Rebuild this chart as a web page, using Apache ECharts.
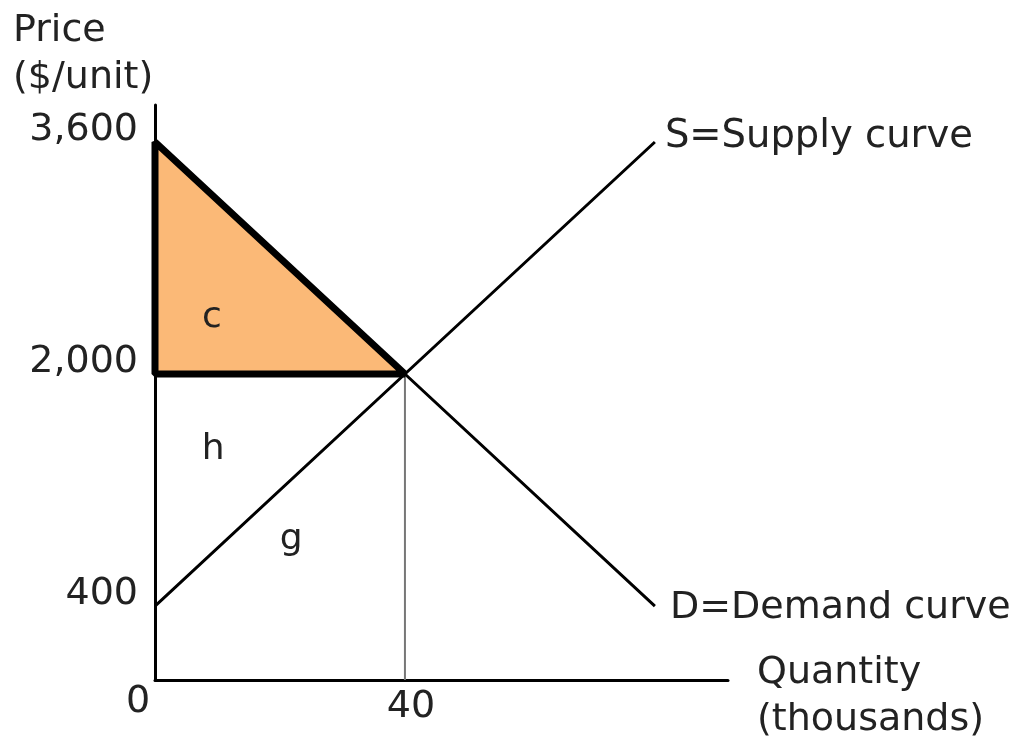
<!DOCTYPE html>
<html>
<head>
<meta charset="utf-8">
<script src="https://cdn.jsdelivr.net/npm/echarts@6/dist/echarts.min.js"></script>
<style>
  html, body { margin: 0; padding: 0; background: #fff; }
  #main { width: 1018px; height: 738px; }
</style>
</head>
<body>
<div id="main"></div>
<script>
// quantity in thousands, price in $/unit
const quantity = [0, 40, 80];
const supplyPrice = [400, 2000, 3600];
const demandPrice = [3600, 2000, 400];
const priceTicks = [400, 2000, 3600];
const quantityTicks = [0, 40];
// consumer surplus triangle (area c)
const surplusQ = [0, 40, 0];
const surplusP = [3600, 2000, 2000];
// equilibrium guide line
const guideQ = [40, 40];
const guideP = [2000, -110];
// area letters
const areaNames = ["c", "h", "g"];
const areaQ = [9.1, 9.3, 21.8];
const areaP = [2386, 1476, 855];

const FONT = "DejaVu Sans";
const TXT = "#222";

const chart = echarts.init(document.getElementById("main"));

const zip = (a, b) => a.map((v, i) => [v, b[i]]);

const option = {
  animation: false,
  grid: { left: 155, right: 290, top: 105, bottom: 58 },
  xAxis: {
    type: "value",
    min: 0,
    max: 91.7,
    splitLine: { show: false },
    axisTick: { show: false },
    axisLine: { onZero: false, lineStyle: { color: "#000", width: 3 } },
    axisLabel: {
      customValues: quantityTicks,
      margin: 0,
      formatter: (v) => (v === 0 ? "{z|0}" : "{f|" + v + "}"),
      rich: {
        z: { fontFamily: FONT, fontSize: 38, color: TXT, padding: [3, 34, 0, 0] },
        f: { fontFamily: FONT, fontSize: 38, color: TXT, padding: [8, 0, 0, 12] },
      },
    },
  },
  yAxis: {
    type: "value",
    min: -110,
    max: 3855,
    splitLine: { show: false },
    axisTick: { show: false },
    axisLine: { onZero: false, lineStyle: { color: "#000", width: 3 } },
    axisLabel: {
      customValues: priceTicks,
      margin: 17,
      fontFamily: FONT,
      fontSize: 38,
      color: TXT,
      verticalAlign: "bottom",
      lineHeight: 24,
      formatter: (v) => v.toLocaleString("en-US"),
    },
  },
  graphic: [
    {
      type: "text",
      left: 13,
      top: 8,
      style: {
        text: "Price\n($/unit)",
        font: "38px " + FONT,
        fill: TXT,
        lineHeight: 47,
      },
    },
    {
      type: "text",
      left: 757,
      top: 650,
      style: {
        text: "Quantity\n(thousands)",
        font: "38px " + FONT,
        fill: TXT,
        lineHeight: 47,
      },
    },
  ],
  series: [
    {
      type: "line",
      data: zip(guideQ, guideP),
      symbol: "none",
      silent: true,
      z: 1,
      lineStyle: { color: "#777", width: 2 },
    },
    {
      type: "custom",
      z: 2,
      data: [0],
      renderItem: (params, api) => {
        const pts = surplusQ.map((q, i) => api.coord([q, surplusP[i]]));
        return {
          type: "polygon",
          shape: { points: pts },
          style: { fill: "#fbb977", stroke: "none" },
        };
      },
    },
    {
      type: "line",
      name: "Supply",
      data: zip(quantity, supplyPrice),
      symbol: "none",
      z: 3,
      lineStyle: { color: "#000", width: 3 },
      endLabel: {
        show: true,
        formatter: "S=Supply curve",
        fontFamily: FONT,
        fontSize: 38.5,
        color: TXT,
        distance: 10,
        offset: [0, -5],
      },
    },
    {
      type: "line",
      name: "Demand",
      data: zip(quantity, demandPrice),
      symbol: "none",
      z: 3,
      lineStyle: { color: "#000", width: 3 },
      endLabel: {
        show: true,
        formatter: "D=Demand curve",
        fontFamily: FONT,
        fontSize: 38,
        color: TXT,
        distance: 15,
        offset: [0, 2],
      },
    },
    {
      type: "custom",
      z: 4,
      data: [0],
      renderItem: (params, api) => {
        const pts = surplusQ.map((q, i) => api.coord([q, surplusP[i]]));
        return {
          type: "polygon",
          shape: { points: pts },
          style: { fill: "none", stroke: "#000", lineWidth: 7, lineJoin: "bevel" },
        };
      },
    },
    {
      type: "scatter",
      z: 5,
      data: zip(areaQ, areaP),
      symbolSize: 0,
      silent: true,
      itemStyle: { opacity: 1 },
      label: {
        show: true,
        position: "inside",
        formatter: (p) => areaNames[p.dataIndex],
        fontFamily: FONT,
        fontSize: 36,
        color: TXT,
        opacity: 1,
      },
    },
  ],
};

chart.setOption(option);
</script>
</body>
</html>
